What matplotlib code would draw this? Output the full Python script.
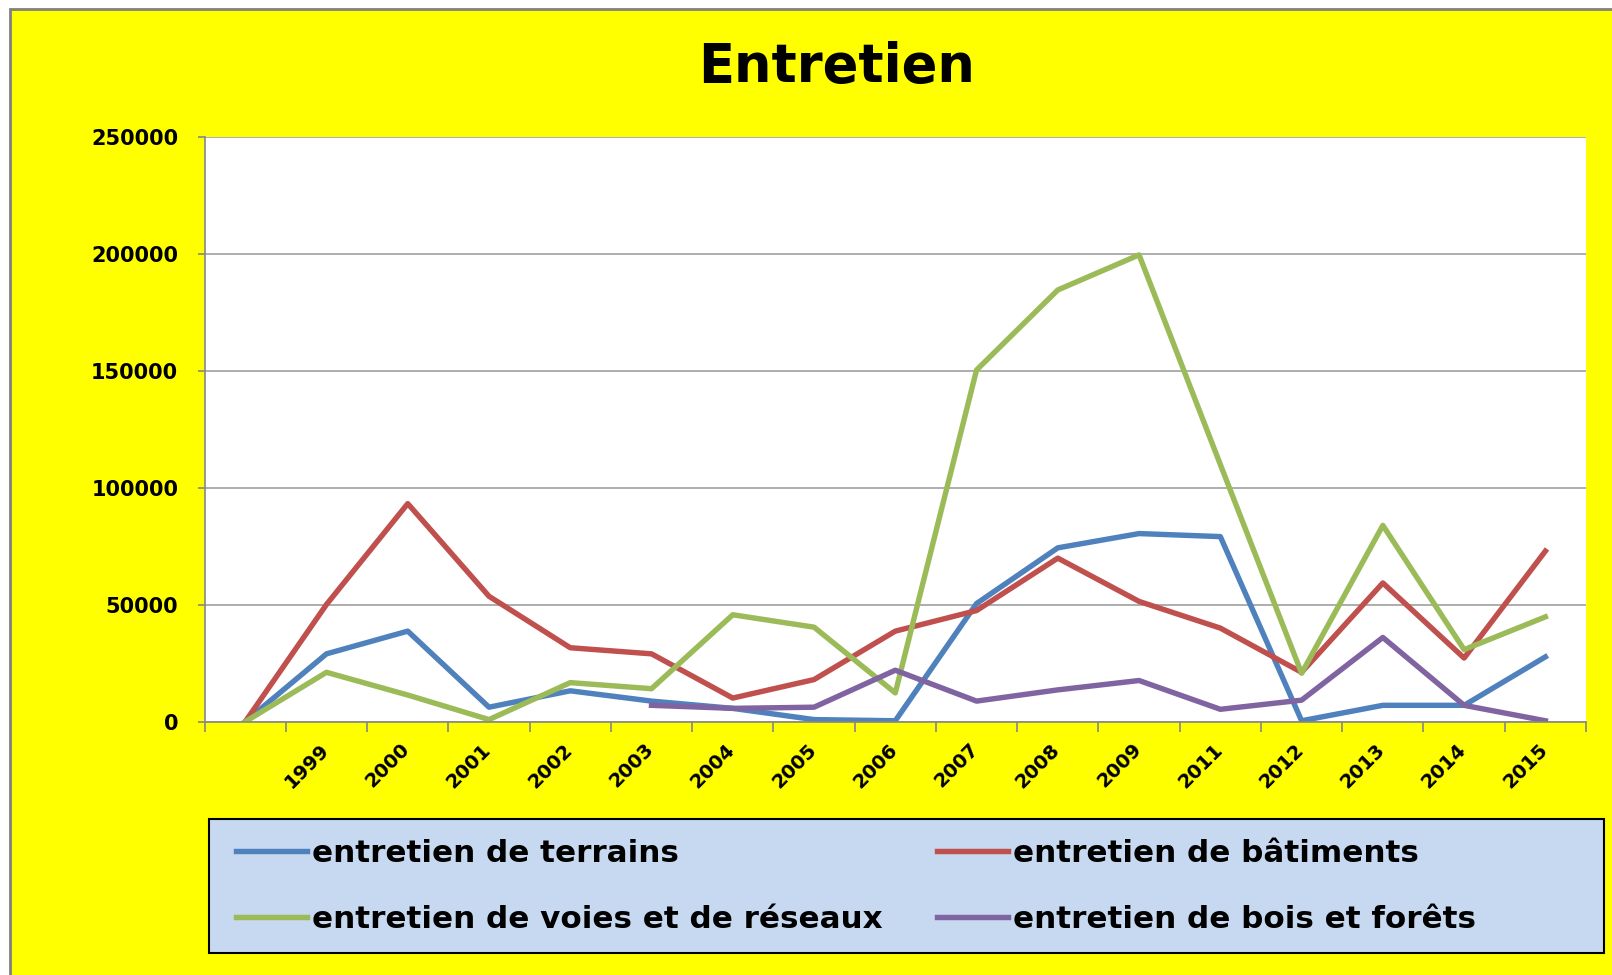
import numpy as np
import matplotlib
matplotlib.use("Agg")
import matplotlib.pyplot as plt
import matplotlib.transforms as mtransforms
from matplotlib.patches import Rectangle

# Data (first category is blank)
categories = ["", "1999", "2000", "2001", "2002", "2003", "2004", "2005", "2006",
              "2007", "2008", "2009", "2011", "2012", "2013", "2014", "2015"]

terrains = [0, 29000, 38700, 6200, 13200, 8800, 5700, 900, 400,
            50500, 74300, 80400, 79100, 400, 7000, 7000, 27700]
batiments = [0, 50100, 93200, 53600, 31600, 29000, 10100, 18000, 38700,
             47500, 69900, 51400, 40000, 21100, 59300, 27200, 72900]
voies = [0, 21100, 11400, 900, 16700, 14100, 45700, 40400, 12300,
         150300, 184500, 199500, 109900, 20700, 83900, 30800, 44800]
bois = [np.nan, np.nan, np.nan, np.nan, np.nan, 7000, 5700, 6200, 22000,
        8800, 13600, 17600, 5300, 9200, 36000, 7000, 400]

series_labels = ["entretien de terrains", "entretien de bâtiments",
                 "entretien de voies et de réseaux", "entretien de bois et forêts"]
colors = ["#4F81BD", "#C0504D", "#9BBB59", "#8064A2"]

W, H = 1612, 975
fig = plt.figure(figsize=(W / 100, H / 100), dpi=100, facecolor="white")

# yellow chart area with grey border on the left / top
fig.add_artist(Rectangle((10 / W, -0.01), 1.0, 1.01 - 9 / H, transform=fig.transFigure,
                         facecolor="#FFFF00", edgecolor="#808080", linewidth=2, zorder=-2))

# plot area
left, right, top, bottom = 204.6, 1586, 136.7, 721.7
ax = fig.add_axes([left / W, 1 - bottom / H, (right - left) / W, (bottom - top) / H])
ax.set_facecolor("white")

x = np.arange(len(categories))
lines = []
for vals, lab, col in zip([terrains, batiments, voies, bois], series_labels, colors):
    ln, = ax.plot(x, vals, color=col, linewidth=3.9, label=lab, solid_joinstyle="round")
    lines.append(ln)

ax.set_xlim(-0.5, len(categories) - 0.5)
ax.set_ylim(0, 250000)
ax.set_yticks(range(0, 250001, 50000))
ax.set_yticklabels([str(v) for v in range(0, 250001, 50000)], fontsize=15, fontweight="bold")
ax.yaxis.grid(True, color="#A0A0A0", linewidth=1.2)
ax.set_axisbelow(True)

ax.set_xticks(x)
ax.set_xticklabels(categories, rotation=45, ha="right", fontsize=14, fontweight="bold")
ax.set_xticks(np.arange(-0.5, len(categories), 1), minor=True)
ax.tick_params(axis="x", which="major", length=0, pad=13)
ax.tick_params(axis="x", which="minor", length=7, color="#868686", width=1.2)
ax.tick_params(axis="y", length=5, color="#868686", width=1.2, pad=14)

# nudge the rotated year labels a little to the right
offset = mtransforms.ScaledTranslation(6 / 100, 0, fig.dpi_scale_trans)
for lbl in ax.get_xticklabels():
    lbl.set_transform(lbl.get_transform() + offset)

for s in ["top", "right"]:
    ax.spines[s].set_visible(False)
for s in ["left", "bottom"]:
    ax.spines[s].set_color("#868686")
    ax.spines[s].set_linewidth(1.2)

# title
fig.text(837 / W, 1 - 67 / H, "Entretien", ha="center", va="center",
         fontsize=38, fontweight="bold")

# legend box
fig.add_artist(Rectangle((209 / W, 1 - 953 / H), (1604 - 209) / W, (953 - 819) / H,
                         transform=fig.transFigure, facecolor="#C6D9F0",
                         edgecolor="black", linewidth=1.5, zorder=1))
order = [0, 2, 1, 3]
fig.legend([lines[i] for i in order], [series_labels[i] for i in order],
           ncol=2, loc="upper left", bbox_to_anchor=(236 / W, 1 - 839 / H),
           frameon=False, prop={"weight": "bold", "size": 22.3},
           handlelength=2.3, handletextpad=0.16, columnspacing=1.74,
           labelspacing=1.2, borderpad=0, borderaxespad=0)

plt.savefig("out.png", dpi=100)
plt.close()
